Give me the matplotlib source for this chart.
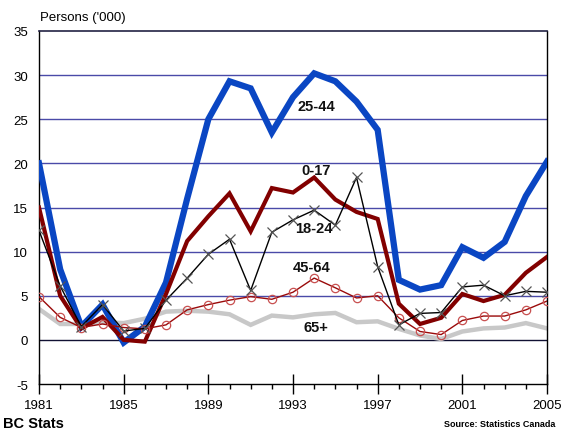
import matplotlib
matplotlib.use("Agg")
import matplotlib.pyplot as plt
from matplotlib.ticker import MultipleLocator

plt.rcParams['font.family'] = ['Liberation Sans', 'DejaVu Sans']

years = list(range(1981, 2006))
age_25_44 = [20.0, 8.0, 1.5, 4.0, -0.3, 1.5, 6.5, 16.0, 25.0, 29.3, 28.5, 23.5, 27.5, 30.2,
             29.3, 27.0, 23.8, 6.8, 5.7, 6.2, 10.5, 9.3, 11.1, 16.3, 20.2]
age_0_17 = [15.0, 5.0, 1.3, 2.6, 0.0, -0.2, 5.2, 11.2, 14.0, 16.6, 12.3, 17.2, 16.7, 18.4,
            15.9, 14.5, 13.7, 4.1, 1.8, 2.5, 5.2, 4.4, 5.1, 7.6, 9.4]
age_18_24 = [12.4, 6.1, 1.5, 4.0, 1.0, 1.3, 4.5, 7.0, 9.7, 11.4, 5.6, 12.2, 13.6, 14.7,
             13.0, 18.4, 8.3, 1.7, 3.0, 3.1, 6.0, 6.2, 5.0, 5.5, 5.4]
age_45_64 = [4.9, 2.55, 1.4, 1.8, 1.4, 1.25, 1.7, 3.4, 4.0, 4.5, 4.9, 4.6, 5.4, 7.0,
             5.9, 4.75, 5.0, 2.5, 0.95, 0.6, 2.2, 2.7, 2.7, 3.4, 4.4]
age_65 = [3.5, 1.8, 1.8, 2.0, 1.9, 2.4, 3.2, 3.3, 3.2, 2.9, 1.7, 2.75, 2.55, 2.9,
          3.05, 2.0, 2.1, 1.25, 0.5, 0.1, 0.95, 1.3, 1.4, 1.9, 1.3]

series_labels = ["25-44", "0-17", "18-24", "45-64", "65+"]
label_pos = [(1994.1, 26.5), (1994.1, 19.3), (1994.0, 12.7), (1993.9, 8.3), (1994.1, 1.5)]
x_ticks = [1981, 1985, 1989, 1993, 1997, 2001, 2005]
y_ticks = [-5, 0, 5, 10, 15, 20, 25, 30, 35]

fig = plt.figure(figsize=(5.61, 4.31), dpi=100)
ax = fig.add_axes([39/561, 1 - 385/431, (547 - 39)/561, (385 - 32)/431])

grid_color = '#4a4aa8'
for yv in y_ticks[2:-1]:
    ax.axhline(yv, color=grid_color, lw=1.0, zorder=1)
ax.axhline(0, color='#111133', lw=1.0, zorder=1)

ax.plot(years, age_65, color='#c8c8c8', lw=3.2, zorder=2, solid_joinstyle='miter')
ax.plot(years, age_25_44, color='#0a46c3', lw=4.5, zorder=3, solid_joinstyle='miter')
ax.plot(years, age_0_17, color='#820000', lw=3.0, zorder=4, solid_joinstyle='miter')
ax.plot(years, age_45_64, color='#9a0a0a', lw=1.0, marker='o', ms=6,
        mfc='none', mec='#c85050', mew=0.9, zorder=5)
ax.plot(years, age_18_24, color='black', lw=1.0, marker='x', ms=7,
        mec='#555555', mew=0.9, zorder=6)

for lab, (lx, ly) in zip(series_labels, label_pos):
    ax.text(lx, ly, lab, ha='center', va='center', fontsize=10.5,
            fontweight='bold', color='#111111', zorder=7)

ax.set_xlim(1981, 2005)
ax.set_ylim(-5, 35)
ax.set_xticks(x_ticks)
ax.set_xticklabels([str(v) for v in x_ticks], fontsize=9.5)
ax.xaxis.set_minor_locator(MultipleLocator(1))
ax.tick_params(axis='x', which='major', direction='inout', length=15, width=1, pad=3)
ax.tick_params(axis='x', which='minor', direction='out', length=3.5, width=1)
ax.set_yticks(y_ticks)
ax.set_yticklabels([str(v) for v in y_ticks], fontsize=9.5)
ax.tick_params(axis='y', length=0, pad=8)

for side in ['left', 'bottom', 'right']:
    ax.spines[side].set_color('black')
    ax.spines[side].set_linewidth(1.0)
ax.spines['top'].set_color('#222244')
ax.spines['top'].set_linewidth(1.2)

fig.text(40/561, 1 - 18/431, "Persons ('000)", fontsize=9.5, ha='left', va='center')
fig.text(3/561, 1 - 424/431, "BC Stats", fontsize=10.5, fontweight='bold', ha='left', va='center')
fig.text(555/561, 1 - 425/431, "Source: Statistics Canada", fontsize=6.5, fontweight='bold',
         ha='right', va='center')

fig.savefig('out.png', dpi=100)
